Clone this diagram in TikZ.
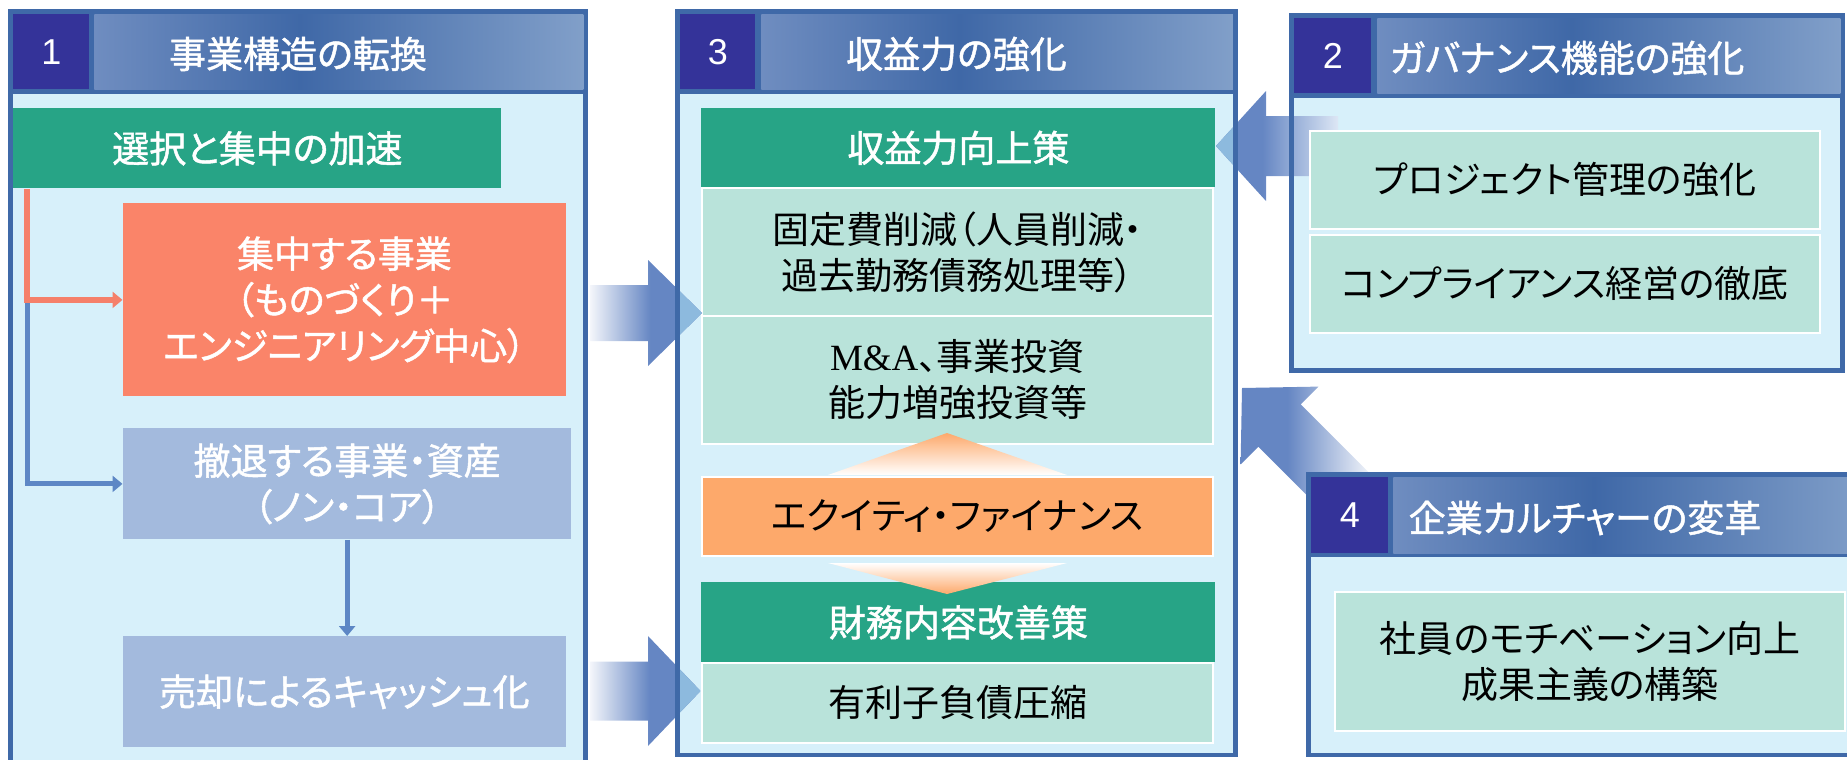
\documentclass[tikz,border=0pt]{standalone}
\usepackage{fontspec}
\setmainfont{Noto Sans CJK JP}[RawFeature=+palt]
\newfontface\wfont{Noto Sans CJK JP}[RawFeature=+palt,RawFeature={embolden=1.3}]
\newfontfamily\numfont{Liberation Sans}
\newfontfamily\mafont{Liberation Serif}
\usetikzlibrary{arrows.meta}
\definecolor{bord}{HTML}{3F69A8}
\definecolor{numc}{HTML}{343399}
\definecolor{hdrL}{HTML}{6F8DC0}
\definecolor{hdrM}{HTML}{3F68A7}
\definecolor{hdrR}{HTML}{819FC9}
\definecolor{bodyc}{HTML}{D7F0FA}
\definecolor{greenc}{HTML}{27A486}
\definecolor{lgreen}{HTML}{B9E3DA}
\definecolor{salmon}{HTML}{FA8469}
\definecolor{lorange}{HTML}{FDA96B}
\definecolor{bgrey}{HTML}{A3BADD}
\definecolor{olinec}{HTML}{F5806A}
\definecolor{blinec}{HTML}{5D87C5}
\definecolor{arrowb}{HTML}{6586C3}
\definecolor{arrowl}{HTML}{F4F6FB}
\definecolor{arrowt}{HTML}{DDE7F5}
\definecolor{tipc}{HTML}{8DBADE}
\pgfdeclarehorizontalshading{hdrsh}{100bp}{color(0bp)=(hdrL); color(25bp)=(hdrL); color(46bp)=(hdrM); color(75bp)=(hdrR); color(100bp)=(hdrR)}
\pgfdeclarehorizontalshading{arrR}{100bp}{color(0bp)=(arrowl); color(25bp)=(arrowl); color(52bp)=(arrowb); color(100bp)=(arrowb)}
\pgfdeclarehorizontalshading{arrL}{100bp}{color(0bp)=(arrowb); color(42bp)=(arrowb); color(75bp)=(white); color(100bp)=(white)}
\pgfdeclarehorizontalshading{arrLt}{100bp}{color(0bp)=(arrowb); color(44bp)=(arrowb); color(75bp)=(arrowt); color(100bp)=(arrowt)}
\newcommand\fsz{\fontsize{18.5}{23}\selectfont}
\newcommand\bx[7]{\node[#6, anchor=north west, inner sep=0pt, minimum width={(#4-#2)*0.5pt}, minimum height={(#5-#3)*0.5pt}] (#1) at (#2,#3) {#7};}
\tikzset{
  numbox/.style={fill=numc, text=white, font={\numfont\fontsize{18}{22}\selectfont}},
  hdr/.style={shade, shading=hdrsh},
  ttl/.style={text=white, font=\wfont\fsz, inner sep=0pt},
  gbox/.style={fill=greenc, text=white, font=\wfont\fsz, align=center},
  lgbox/.style={fill=lgreen, draw=white, line width=1pt, text=black, font=\fsz, align=center},
  sbox/.style={fill=salmon, text=white, font=\wfont\fsz, align=center},
  bgbox/.style={fill=bgrey, text=white, font=\wfont\fsz, align=center},
  obox/.style={fill=lorange, draw=white, line width=0.8pt, text=black, font=\fsz, align=center},
  oline/.style={draw=olinec, line width=2.6pt, -{Triangle[length=5pt,width=8pt]}},
  bline/.style={draw=blinec, line width=2.5pt, -{Triangle[length=5pt,width=8pt]}},
}
\begin{document}
\begin{tikzpicture}[x=0.5pt,y=-0.5pt]
\useasboundingbox (0,0) rectangle (1847,760);
\clip (0,0) rectangle (1847,760);

% ---------- Panel 1 ----------
\fill[bord] (8,9) rectangle (588,775);
\fill[bodyc] (13,94) rectangle (583,775);
\bx{n1}{13}{14}{89}{89}{numbox}{1}
\bx{h1}{94}{14}{583}{89}{hdr}{}
\node[ttl] (t1) at (298,54) {事業構造の転換};
\bx{sel}{13}{108}{501}{188}{gbox}{選択と集中の加速}
\bx{conc}{122.5}{203}{565.5}{396}{sbox}{集中する事業\\（ものづくり＋\\エンジニアリング中心）}
\bx{ret}{122.5}{428}{571}{539}{bgbox}{撤退する事業・資産\\（ノン・コア）}
\bx{cash}{122.5}{636}{565.5}{747}{bgbox}{売却によるキャッシュ化}
\coordinate (j) at (27,299.5);
\draw[bline] (j) |- (ret.west);
\draw[oline] (sel.south west -| j) |- (conc.west);
\draw[bline] (ret.south) -- (ret.south |- cash.north);

% ---------- Panel 3 ----------
\fill[bord] (675,9) rectangle (1238,757);
\fill[bodyc] (680,94) rectangle (1233,753);
\bx{n3}{680}{14}{755}{89}{numbox}{3}
\bx{h3}{761}{14}{1233}{89}{hdr}{}
\node[ttl] (t3) at (956.5,54) {収益力の強化};
\bx{p3a}{701}{108}{1215}{187}{gbox}{収益力向上策}
\bx{p3b}{701}{187}{1212}{315}{lgbox}{固定費削減（人員削減・\\過去勤務債務処理等）}
\bx{p3c}{701}{315}{1212}{443}{lgbox}{{\mafont M\&A}、事業投資\\能力増強投資等}
\bx{p3d}{701}{476}{1212}{555}{obox}{エクイティ・ファイナンス}
\bx{p3e}{701}{582}{1215}{662}{gbox}{財務内容改善策}
\bx{p3f}{701}{662}{1212}{742}{lgbox}{有利子負債圧縮}
\shade[top color=lorange, bottom color=white] (828,475) -- (947,433) -- (1067,475) -- cycle;
\shade[top color=white, bottom color=lorange] (828,563) -- (1067,563) -- (947,594) -- cycle;

% ---------- Panel 2 (frame) ----------
\fill[bord] (1289,13) rectangle (1845,373);
\fill[bodyc] (1294,98) rectangle (1840,368);
\bx{n2}{1294}{18}{1371}{93}{numbox}{2}
\bx{h2}{1377}{18}{1840}{93}{hdr}{}
\node[ttl] (t2) at (1567,58) {ガバナンス機能の強化};

% ---------- block arrows ----------
\shade[shading=arrR] (590,285) -- (648,285) -- (648,260) -- (702,313) -- (648,366) -- (648,341) -- (590,341) -- cycle;
\shade[shading=arrR] (590,661.5) -- (648,661.5) -- (648,636) -- (700.5,691) -- (648,746) -- (648,720.5) -- (590,720.5) -- cycle;
\shade[shading=arrLt] (1338,116) -- (1266,116) -- (1266,91) -- (1216,146) -- (1266,201) -- (1266,176) -- (1338,176) -- cycle;
\shade[shading=arrL] (1242,388) -- (1318.4,386.6) -- (1300.7,404.3) -- (1378.5,482.1) -- (1336.1,524.5) -- (1258.3,446.7) -- (1240.6,464.4) -- cycle;
\begin{scope}
  \clip (680,94) rectangle (1233,753);
  \fill[tipc] (590,285) -- (648,285) -- (648,260) -- (702,313) -- (648,366) -- (648,341) -- (590,341) -- cycle;
  \fill[tipc] (590,661.5) -- (648,661.5) -- (648,636) -- (700.5,691) -- (648,746) -- (648,720.5) -- (590,720.5) -- cycle;
  \fill[tipc] (1338,116) -- (1266,116) -- (1266,91) -- (1216,146) -- (1266,201) -- (1266,176) -- (1338,176) -- cycle;
\end{scope}

% ---------- Panel 2 (content) ----------
\bx{p2a}{1309}{130}{1819}{228}{lgbox}{プロジェクト管理の強化}
\bx{p2b}{1309}{234}{1819}{332}{lgbox}{コンプライアンス経営の徹底}

% ---------- Panel 4 ----------
\fill[bord] (1306,472) rectangle (1875,757);
\fill[bodyc] (1311,557) rectangle (1870,753);
\bx{n4}{1311}{477}{1388}{553}{numbox}{4}
\bx{h4}{1393}{477}{1870}{553}{hdr}{}
\node[ttl] (t4) at (1585,518) {企業カルチャーの変革};
\bx{p4a}{1334}{591}{1844}{730}{lgbox}{社員のモチベーション向上\\成果主義の構築}

% ---------- borders over arrows ----------
\fill[bord] (675,9) rectangle (680,757);
\fill[bord] (1233,9) rectangle (1238,757);
\fill[bord] (1289,13) rectangle (1294,373);
\end{tikzpicture}
\end{document}
